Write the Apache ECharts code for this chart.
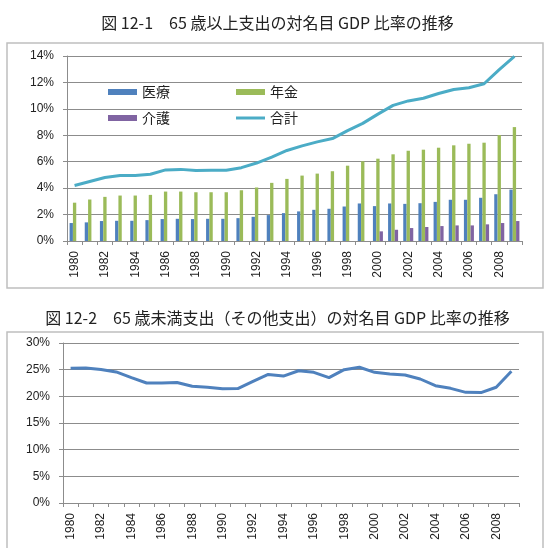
<!DOCTYPE html>
<html>
<head>
<meta charset="utf-8">
<script src="https://cdn.jsdelivr.net/npm/echarts@6/dist/echarts.min.js"></script>
<style>html,body{margin:0;padding:0;background:#fff;}#c{width:555px;height:548px;}</style>
</head>
<body>
<div id="c"></div>
<script>
var years = ['1980','1981','1982','1983','1984','1985','1986','1987','1988','1989','1990','1991','1992','1993','1994','1995','1996','1997','1998','1999','2000','2001','2002','2003','2004','2005','2006','2007','2008','2009'];
var medical = [1.36,1.41,1.51,1.53,1.53,1.58,1.66,1.68,1.66,1.68,1.68,1.73,1.83,1.96,2.11,2.24,2.36,2.44,2.61,2.84,2.64,2.84,2.81,2.86,2.96,3.12,3.12,3.27,3.54,3.89];
var pension = [2.9,3.14,3.34,3.44,3.44,3.49,3.74,3.74,3.69,3.69,3.69,3.84,4.05,4.4,4.7,4.95,5.1,5.28,5.7,6.03,6.23,6.56,6.83,6.91,7.06,7.24,7.36,7.44,8.02,8.62];
var care = [null,null,null,null,null,null,null,null,null,null,null,null,null,null,null,null,null,null,null,null,0.73,0.85,0.98,1.06,1.13,1.18,1.18,1.26,1.36,1.51];
var total = [4.2,4.5,4.8,4.95,4.95,5.05,5.38,5.42,5.33,5.35,5.35,5.55,5.9,6.35,6.85,7.2,7.5,7.75,8.35,8.9,9.6,10.26,10.6,10.8,11.16,11.47,11.6,11.9,12.97,13.97];
var other = [25.25,25.3,25.05,24.57,23.5,22.5,22.5,22.6,21.9,21.7,21.4,21.45,22.8,24.1,23.8,24.8,24.5,23.5,25.0,25.45,24.5,24.2,24.0,23.25,22.0,21.5,20.75,20.7,21.7,24.7];
var title1 = '図 12-1　65 歳以上支出の対名目 GDP 比率の推移';
var title2 = '図 12-2　65 歳未満支出（その他支出）の対名目 GDP 比率の推移';

var JP = '"Noto Sans CJK JP", sans-serif';
var LAT = '"Liberation Sans", Arial, sans-serif';
var gridColor = '#8c8c8c';

function xAxisCfg(gi) {
  return {
    type: 'category', gridIndex: gi, data: years, boundaryGap: true,
    axisLine: {lineStyle: {color: gridColor, width: 1}},
    axisTick: {show: true, length: 4, interval: 0, lineStyle: {color: gridColor}},
    axisLabel: {interval: 1, rotate: 90, margin: 10, fontSize: 12, fontFamily: LAT, color: '#222'}
  };
}
function yAxisCfg(gi, max, step) {
  return {
    type: 'value', gridIndex: gi, min: 0, max: max, interval: step,
    axisLine: {show: true, lineStyle: {color: gridColor, width: 1}},
    axisTick: {show: true, length: 4, lineStyle: {color: gridColor}},
    splitLine: {show: true, lineStyle: {color: gridColor, width: 1}},
    axisLabel: {formatter: '{value}%', margin: 13, fontSize: 12, fontFamily: LAT, color: '#222'}
  };
}
function legendCfg(name, left, top, h, icon) {
  return {
    data: [{name: name, icon: icon}], left: left, top: top, padding: 0,
    itemWidth: 29, itemHeight: h, orient: 'horizontal', selectedMode: false,
    textStyle: {fontSize: 14, fontFamily: JP, color: '#222'}
  };
}

var chart = echarts.init(document.getElementById('c'), null, {renderer: 'canvas'});
chart.setOption({
  animation: false,
  backgroundColor: '#fff',
  title: [
    {text: title1, left: 'center', top: 15, padding: 0, textStyle: {fontSize: 16, fontWeight: 'normal', fontFamily: JP, color: '#222'}},
    {text: title2, left: 'center', top: 310, padding: 0, textStyle: {fontSize: 16, fontWeight: 'normal', fontFamily: JP, color: '#222'}}
  ],
  graphic: [
    {type: 'rect', shape: {x: 7, y: 43, width: 536, height: 245}, style: {fill: 'none', stroke: '#bfbfbf', lineWidth: 1.5}, silent: true},
    {type: 'rect', shape: {x: 7, y: 332, width: 536, height: 240}, style: {fill: 'none', stroke: '#bfbfbf', lineWidth: 1.5}, silent: true}
  ],
  legend: [
    legendCfg('医療', 108, 85, 6, 'rect'),
    legendCfg('年金', 236, 85, 6, 'rect'),
    legendCfg('介護', 108, 111, 6, 'rect'),
    legendCfg('合計', 236, 111, 3, 'rect')
  ],
  grid: [
    {left: 67, right: 33, top: 56, height: 185},
    {left: 63, right: 36, top: 343, height: 160}
  ],
  xAxis: [xAxisCfg(0), xAxisCfg(1)],
  yAxis: [yAxisCfg(0, 14, 2), yAxisCfg(1, 30, 5)],
  series: [
    {name: '医療', type: 'bar', xAxisIndex: 0, yAxisIndex: 0, data: medical, barGap: '0%', barCategoryGap: '34%', itemStyle: {color: '#4F81BD'}},
    {name: '年金', type: 'bar', xAxisIndex: 0, yAxisIndex: 0, data: pension, barGap: '0%', barCategoryGap: '34%', itemStyle: {color: '#9BBB59'}},
    {name: '介護', type: 'bar', xAxisIndex: 0, yAxisIndex: 0, data: care, barGap: '0%', barCategoryGap: '34%', itemStyle: {color: '#8064A2'}},
    {name: '合計', type: 'line', xAxisIndex: 0, yAxisIndex: 0, data: total, symbol: 'none', lineStyle: {color: '#4BACC6', width: 3}, itemStyle: {color: '#4BACC6'}},
    {name: 'その他支出', type: 'line', xAxisIndex: 1, yAxisIndex: 1, data: other, symbol: 'none', lineStyle: {color: '#4F81BD', width: 3}, itemStyle: {color: '#4F81BD'}}
  ]
});
</script>
</body>
</html>
